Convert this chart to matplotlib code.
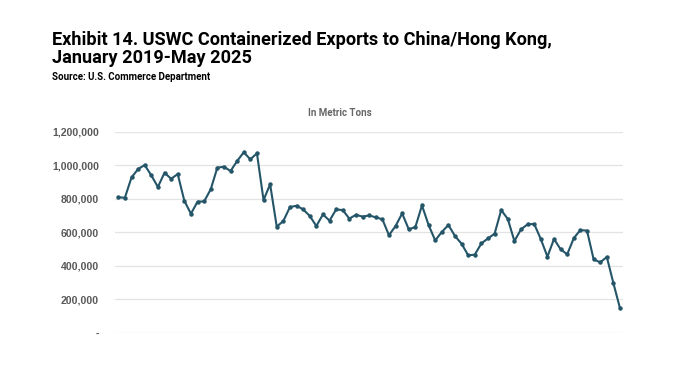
import matplotlib
matplotlib.use("Agg")
import matplotlib.pyplot as plt
from matplotlib.ticker import FuncFormatter

values = [808, 806, 927, 977, 1001, 939, 870, 955, 919, 947, 788, 710,
          782, 784, 856, 985, 991, 965, 1025, 1077, 1035, 1071, 792, 886,
          633, 667, 750, 758, 736, 697, 637, 706, 669, 736, 732, 681,
          704, 693, 700, 689, 677, 582, 637, 712, 617, 631, 760, 643,
          551, 601, 643, 577, 531, 462, 466, 533, 563, 591, 732, 679,
          547, 617, 647, 649, 559, 454, 559, 498, 468, 565, 613, 609,
          438, 420, 452, 295, 145]
values = [v * 1000 for v in values]
yticks = [0, 200000, 400000, 600000, 800000, 1000000, 1200000]

title = "Exhibit 14. USWC Containerized Exports to China/Hong Kong,\nJanuary 2019-May 2025"
source = "Source: U.S. Commerce Department"
subtitle = "In Metric Tons"

fam = ['Roboto', 'DejaVu Sans']

fig = plt.figure(figsize=(6.78, 3.81), dpi=100)
fig.patch.set_facecolor('white')
ax = fig.add_axes([115/678, 1-332.7/381, (623-115)/678, (332.7-131.7)/381])

x = list(range(len(values)))
ax.plot(x, values, color='#245568', linewidth=1.5, marker='o', markersize=2.2,
        markerfacecolor='#245568', markeredgecolor='#245568', zorder=3)

ax.set_xlim(-0.5, 76.45)
ax.set_ylim(0, 1200000)
ax.set_yticks(yticks)
ax.yaxis.set_major_formatter(FuncFormatter(lambda v, p: '-' if v == 0 else f'{int(v):,}'))
ax.set_xticks([])
ax.grid(axis='y', color='#e3e3e3', linewidth=0.9)
ax.set_axisbelow(True)
for s in ax.spines.values():
    s.set_visible(False)
ax.tick_params(axis='y', length=0, pad=11.5, labelsize=7.6, labelcolor='#595959')
for lab in ax.get_yticklabels():
    lab.set_fontweight('bold')
    lab.set_family(['Liberation Sans', 'DejaVu Sans'])

fig.text(52/678, 1-31/381, title, ha='left', va='top', fontsize=13.1,
         fontweight='bold', family=fam, color='black', linespacing=1.0)
fig.text(52/678, 1-72/381, source, ha='left', va='top', fontsize=7.0,
         fontweight='bold', family=fam, color='black')
fig.text(340/678, 1-113/381, subtitle, ha='center', va='center', fontsize=7,
         fontweight='bold', family=fam, color='#666666')

fig.savefig('out.png', dpi=100, facecolor='white')
